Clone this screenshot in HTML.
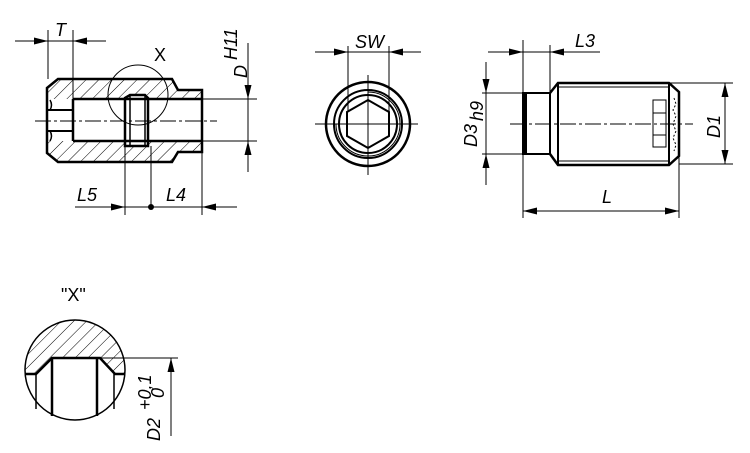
<!DOCTYPE html>
<html><head><meta charset="utf-8"><style>
html,body{margin:0;padding:0;background:#fff}
svg{display:block}
text{font-family:"Liberation Sans",sans-serif;font-style:italic;font-size:18px;fill:#000;stroke:none}
</style></head><body>
<svg width="750" height="453" viewBox="0 0 750 453" xmlns="http://www.w3.org/2000/svg">
<defs>
<pattern id="h" patternUnits="userSpaceOnUse" width="9" height="9" patternTransform="rotate(45)">
<line x1="0" y1="0" x2="0" y2="9" stroke="#000" stroke-width="1"/>
</pattern>
<clipPath id="c"><circle cx="75" cy="370" r="50"/></clipPath>
</defs>
<g stroke="#000" fill="none" stroke-width="1">
<!-- LEFT VIEW -->
<path d="M47,88 L58,79 L172,79 L178,90 L202,90 L202,99 L47,99 Z" fill="url(#h)" stroke="none"/>
<path d="M47,141 L202,141 L202,152 L178,152 L172,162 L58,162 L47,153 Z" fill="url(#h)" stroke="none"/>
<rect x="125" y="95" width="23" height="51" fill="#fff" stroke="none"/>
<path d="M47,88 L58,79 L172,79 L178,90 L202,90 L202,152 L178,152 L172,162 L58,162 L47,153 Z" stroke-width="2.5"/>
<line x1="73" y1="99" x2="202" y2="99" stroke-width="2.5"/>
<line x1="73" y1="141" x2="202" y2="141" stroke-width="2.5"/>
<line x1="73" y1="99" x2="73" y2="141" stroke-width="2.5"/>
<line x1="47" y1="110" x2="73" y2="110" stroke-width="2"/>
<line x1="47" y1="131" x2="73" y2="131" stroke-width="2"/>
<path d="M50,100 Q53,105 50,110 M50,131 Q53,136 50,141" stroke-width="1.5"/>
<path d="M125,146 L125,98 L130,95 L145,95 L148,98 L148,146 Z" stroke-width="2.5"/>
<line x1="130" y1="95" x2="130" y2="146" stroke-width="1.5"/>
<line x1="145" y1="95" x2="145" y2="146" stroke-width="1.5"/>
<line x1="35" y1="121" x2="217" y2="121" stroke-dasharray="16,3,3,3"/>
<circle cx="138" cy="95" r="30"/>
<text x="154" y="61" style="font-style:normal">X</text>
<!-- T -->
<line x1="48" y1="30" x2="48" y2="79"/>
<line x1="73" y1="30" x2="73" y2="99"/>
<line x1="15" y1="41" x2="106" y2="41"/>
<text x="55" y="36">T</text>
<!-- D H11 -->
<line x1="202" y1="99" x2="257" y2="99"/>
<line x1="202" y1="141" x2="257" y2="141"/>
<line x1="248" y1="43" x2="248" y2="172"/>
<text transform="translate(247,78) rotate(-90)">D</text>
<text transform="translate(237,60) rotate(-90)" font-size="12">H11</text>
<!-- L5 L4 -->
<line x1="125" y1="146" x2="125" y2="215"/>
<line x1="151" y1="146" x2="151" y2="207"/>
<line x1="202" y1="152" x2="202" y2="215"/>
<line x1="75" y1="207" x2="237" y2="207"/>
<circle cx="151" cy="207" r="3" fill="#000" stroke="none"/>
<text x="77" y="201">L5</text>
<text x="166" y="201">L4</text>

<!-- MIDDLE VIEW -->
<circle cx="368" cy="124" r="42" stroke-width="2.5"/>
<circle cx="368" cy="124" r="34" stroke-width="2"/>
<path d="M368,92 A32,32 0 1,1 336,124" stroke-width="1"/>
<circle cx="368" cy="124" r="29" stroke-width="2"/>
<polygon points="368,100 389,112 389,136 368,148 347,136 347,112" stroke-width="2"/>
<line x1="315" y1="124" x2="418" y2="124"/>
<line x1="368" y1="75" x2="368" y2="175"/>
<line x1="348" y1="46" x2="348" y2="112"/>
<line x1="389" y1="46" x2="389" y2="112"/>
<line x1="315" y1="52" x2="421" y2="52"/>
<text x="355" y="48">SW</text>

<!-- RIGHT VIEW -->
<rect x="523" y="93" width="27" height="61" stroke-width="2"/>
<line x1="525" y1="93" x2="525" y2="154" stroke-width="4"/>
<path d="M550,93 L558,83 L669,83 L679,92 L679,156 L669,165 L558,165 L550,154" stroke-width="2.5"/>
<line x1="558" y1="83" x2="558" y2="165" stroke-width="2"/>
<line x1="669" y1="83" x2="669" y2="165" stroke-width="2"/>
<line x1="558" y1="87" x2="669" y2="87"/>
<line x1="558" y1="161" x2="669" y2="161"/>
<path d="M653,100 L666,100 L666,147 L653,147 Z M653,113 L666,113 M653,135 L666,135"/>
<path d="M674,98 L676,104 L673,110 L676,116 L673,124 L676,131 L673,138 L676,145 L674,151" stroke-dasharray="2,2"/>
<line x1="510" y1="124" x2="693" y2="124" stroke-dasharray="16,3,3,3"/>
<!-- D3 -->
<line x1="482" y1="93" x2="523" y2="93"/>
<line x1="482" y1="154" x2="523" y2="154"/>
<line x1="486" y1="62" x2="486" y2="185"/>
<text transform="translate(477,147) rotate(-90)">D3</text>
<text transform="translate(483,121) rotate(-90)" font-size="12">h9</text>
<!-- L3 -->
<line x1="523" y1="40" x2="523" y2="93"/>
<line x1="550" y1="45" x2="550" y2="93"/>
<line x1="488" y1="52" x2="600" y2="52"/>
<text x="575" y="47">L3</text>
<!-- L -->
<line x1="523" y1="154" x2="523" y2="218"/>
<line x1="679" y1="156" x2="679" y2="218"/>
<line x1="523" y1="211" x2="679" y2="211"/>
<text x="602" y="203">L</text>
<!-- D1 -->
<line x1="669" y1="83" x2="733" y2="83"/>
<line x1="679" y1="164" x2="733" y2="164"/>
<line x1="725" y1="83" x2="725" y2="164"/>
<text transform="translate(720,138) rotate(-90)">D1</text>

<!-- DETAIL X -->
<text x="61" y="301" style="font-style:normal">"X"</text>
<path d="M20,320 L130,320 L130,374 L115,374 L100,358 L52,358 L36,374 L20,374 Z" fill="url(#h)" stroke="none" clip-path="url(#c)"/>
<circle cx="75" cy="370" r="50" stroke-width="1.5"/>
<path d="M25,374 L36,374 L52,358 L100,358 L115,374 L125,374" stroke-width="2.5"/>
<line x1="52" y1="358" x2="52" y2="416" stroke-width="2.5"/>
<line x1="97" y1="358" x2="97" y2="416" stroke-width="2.5"/>
<line x1="36" y1="374" x2="36" y2="409" stroke-width="1.5"/>
<line x1="114" y1="374" x2="114" y2="409" stroke-width="1.5"/>
<line x1="100" y1="358" x2="178" y2="358"/>
<line x1="171" y1="358" x2="171" y2="436"/>
<text transform="translate(160,441) rotate(-90)">D2</text>
<text transform="translate(151,410) rotate(-90)" font-size="12">+0,1</text>
<text transform="translate(164,398) rotate(-90)" font-size="12">0</text>
</g>
<!-- arrowheads -->
<g fill="#000" stroke="none">
<polygon points="34,37.5 48,41 34,44.5"/>
<polygon points="87,37.5 73,41 87,44.5"/>
<polygon points="244.5,85 248,99 251.5,85"/>
<polygon points="244.5,155 248,141 251.5,155"/>
<polygon points="111,203.5 125,207 111,210.5"/>
<polygon points="216,203.5 202,207 216,210.5"/>
<polygon points="334,48.5 348,52 334,55.5"/>
<polygon points="403,48.5 389,52 403,55.5"/>
<polygon points="482.5,79 486,93 489.5,79"/>
<polygon points="482.5,168 486,154 489.5,168"/>
<polygon points="509,48.5 523,52 509,55.5"/>
<polygon points="564,48.5 550,52 564,55.5"/>
<polygon points="537,207.5 523,211 537,214.5"/>
<polygon points="665,207.5 679,211 665,214.5"/>
<polygon points="721.5,97 725,83 728.5,97"/>
<polygon points="721.5,150 725,164 728.5,150"/>
<polygon points="167.5,372 171,358 174.5,372"/>
</g>
</svg>
</body></html>
